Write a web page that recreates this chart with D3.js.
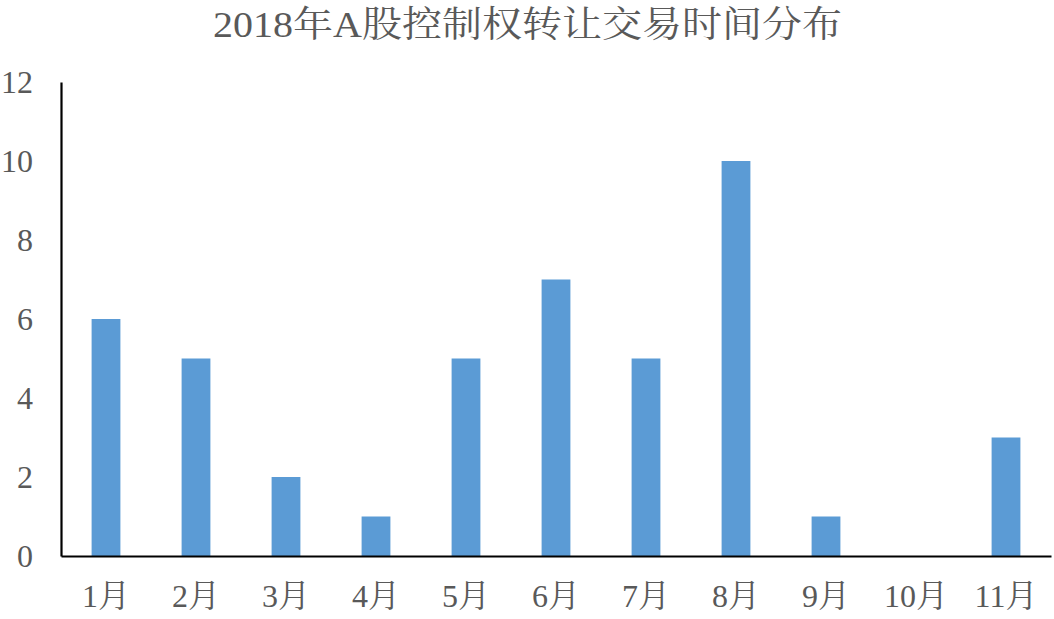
<!DOCTYPE html>
<html><head><meta charset="utf-8">
<script src="https://cdn.jsdelivr.net/npm/d3@7"></script>
<style>body{margin:0;background:#fff}svg{display:block}</style>
</head><body>
<script>
const categories = ["1月","2月","3月","4月","5月","6月","7月","8月","9月","10月","11月"];
const values = [6,5,2,1,5,7,5,10,1,0,3];
const yTicks = [0,2,4,6,8,10,12];
const title = "2018年A股控制权转让交易时间分布";

const W = 1054, H = 619;
const svg = d3.select("body").append("svg").attr("width", W).attr("height", H);
const fontF = "'Liberation Serif','Noto Serif CJK SC','Noto Sans CJK SC',serif";
const txt = "#595959";

const x = d3.scaleBand().domain(categories).range([61, 1051]).paddingInner(0.68).paddingOuter(0.34);
const y = d3.scaleLinear().domain([0, 12]).range([556, 82]);

svg.append("text").attr("x", 213).attr("y", 37)
  .attr("textLength", 629).attr("lengthAdjust", "spacingAndGlyphs")
  .style("font-family", fontF).style("font-size", "36px").style("fill", txt)
  .text(title);

svg.selectAll("rect.bar").data(values).enter().append("rect")
  .attr("class", "bar")
  .attr("x", (d, i) => x(categories[i]))
  .attr("y", d => y(d))
  .attr("width", x.bandwidth())
  .attr("height", d => y(0) - y(d))
  .attr("fill", "#5B9BD5");

const yAxis = d3.axisLeft(y).tickValues(yTicks).tickSize(0).tickPadding(28);
const gy = svg.append("g").attr("transform", "translate(61,0)").call(yAxis);
gy.select(".domain").attr("stroke", "#000").attr("stroke-width", 2.2);
gy.selectAll("text").style("font-family", fontF).style("font-size", "32px").style("fill", txt);

const xAxis = d3.axisBottom(x).tickSize(0).tickPadding(28);
const gx = svg.append("g").attr("transform", "translate(0,556)").call(xAxis);
gx.select(".domain").attr("stroke", "#000").attr("stroke-width", 2.2);
gx.selectAll("text").style("font-family", fontF).style("font-size", "32px").style("fill", txt);
</script>
</body></html>
